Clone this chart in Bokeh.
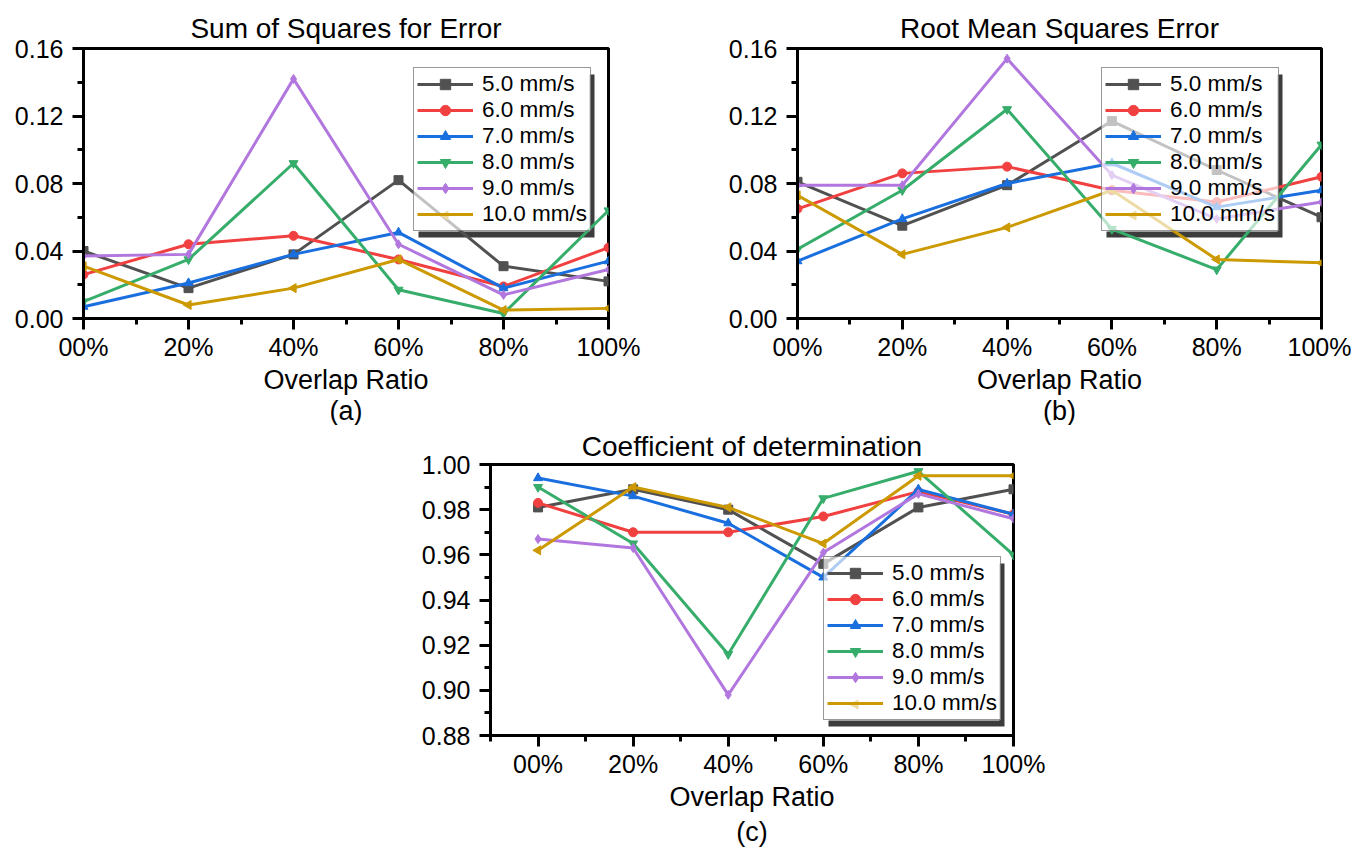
import math

from bokeh.plotting import figure
from bokeh.models import (FixedTicker, PrintfTickFormatter, Legend, LegendItem,
                          Title, Range1d, Spacer, BoxAnnotation, PolyAnnotation)
from bokeh.layouts import column, row
from bokeh.embed import file_html
from bokeh.resources import INLINE

# ---- data -------------------------------------------------------------
overlap = [0, 20, 40, 60, 80, 100]
overlap_labels = ["00%", "20%", "40%", "60%", "80%", "100%"]
speeds = ["5.0 mm/s", "6.0 mm/s", "7.0 mm/s", "8.0 mm/s", "9.0 mm/s", "10.0 mm/s"]

# Sum of squares for error
sse_5 = [0.040, 0.018, 0.038, 0.082, 0.031, 0.022]
sse_6 = [0.026, 0.044, 0.049, 0.035, 0.019, 0.042]
sse_7 = [0.007, 0.021, 0.038, 0.051, 0.018, 0.034]
sse_8 = [0.010, 0.035, 0.092, 0.017, 0.003, 0.064]
sse_9 = [0.037, 0.038, 0.142, 0.044, 0.014, 0.029]
sse_10 = [0.031, 0.008, 0.018, 0.035, 0.005, 0.006]

# Root mean squares error
rmse_5 = [0.081, 0.055, 0.079, 0.117, 0.088, 0.060]
rmse_6 = [0.065, 0.086, 0.090, 0.076, 0.069, 0.084]
rmse_7 = [0.034, 0.059, 0.080, 0.092, 0.066, 0.076]
rmse_8 = [0.041, 0.076, 0.124, 0.053, 0.029, 0.103]
rmse_9 = [0.079, 0.079, 0.154, 0.085, 0.059, 0.069]
rmse_10 = [0.073, 0.038, 0.054, 0.076, 0.035, 0.033]

# Coefficient of determination
r2_5 = [0.981, 0.989, 0.980, 0.956, 0.981, 0.989]
r2_6 = [0.983, 0.970, 0.970, 0.977, 0.988, 0.978]
r2_7 = [0.994, 0.986, 0.974, 0.950, 0.989, 0.978]
r2_8 = [0.990, 0.965, 0.916, 0.985, 0.997, 0.960]
r2_9 = [0.967, 0.963, 0.898, 0.961, 0.987, 0.976]
r2_10 = [0.962, 0.990, 0.981, 0.965, 0.995, 0.995]

small_ticks = [0.00, 0.04, 0.08, 0.12, 0.16]
r2_ticks = [0.88, 0.90, 0.92, 0.94, 0.96, 0.98, 1.00]

# ---- style ------------------------------------------------------------
COLORS = ["#515151", "#F14040", "#1A6FDF", "#37AD6B", "#B177DE", "#CC9900"]
MARKERS = ["square", "circle", "triangle", "inverted_triangle", "diamond", "triangle"]
ANGLES = [0, 0, 0, 0, 0, math.pi / 2]   # last one: triangle pointing left
FONT = "Liberation Sans"
TITLE_FS = "28px"
TICK_FS = "25px"
LABEL_FS = "27px"
LEG_FS = "22.5px"

# legend box geometry (pixels)
LEG_PAD = 3
LEG_GW = 56
LEG_ROW = 26
LEG_W = 176
LEG_H = 163
SHADOW_DX, SHADOW_DY = 5, 6


def build_panel(title, caption, series, y_ticks, x_lo, frame_w, frame_h,
                borders, legend_loc, title_gap, caption_gap):
    left, right, top, bottom = borders
    y_lo, y_hi = y_ticks[0], y_ticks[-1]
    p = figure(frame_width=frame_w, frame_height=frame_h,
               min_border_left=left, min_border_right=right,
               min_border_top=top, min_border_bottom=bottom,
               x_range=Range1d(x_lo, 100), y_range=Range1d(y_lo, y_hi),
               output_backend="svg", toolbar_location=None)
    p.title = None
    p.add_layout(Title(text=title, align="center", text_font=FONT,
                       text_font_size=TITLE_FS, text_font_style="normal",
                       text_color="black", standoff=title_gap), "above")
    p.add_layout(Title(text=caption, align="center", text_font=FONT,
                       text_font_size=LABEL_FS, text_font_style="normal",
                       text_color="black", standoff=caption_gap), "below")

    p.grid.visible = False
    p.outline_line_color = "black"
    p.outline_line_width = 3
    p.outline_line_alpha = 1
    p.background_fill_color = "white"
    p.border_fill_color = "white"

    x_minor = [t - 10 for t in overlap if t - 10 >= x_lo]
    y_minor = [(a + b) / 2 for a, b in zip(y_ticks[:-1], y_ticks[1:])]
    p.xaxis.ticker = FixedTicker(ticks=overlap, minor_ticks=x_minor)
    p.xaxis.major_label_overrides = dict(zip(overlap, overlap_labels))
    p.yaxis.ticker = FixedTicker(ticks=y_ticks, minor_ticks=y_minor)
    p.yaxis.formatter = PrintfTickFormatter(format="%.2f")

    for ax in (p.xaxis[0], p.yaxis[0]):
        ax.axis_line_width = 3
        ax.axis_line_color = "black"
        ax.major_tick_line_width = 3
        ax.major_tick_line_color = "black"
        ax.major_tick_out = 11
        ax.major_tick_in = 0
        ax.minor_tick_line_width = 3
        ax.minor_tick_line_color = "black"
        ax.minor_tick_out = 6
        ax.minor_tick_in = 0
        ax.major_label_text_font = FONT
        ax.major_label_text_font_size = TICK_FS
        ax.major_label_text_color = "black"
    p.xaxis.major_label_standoff = 3
    p.yaxis.major_label_standoff = 9
    p.xaxis.axis_label = "Overlap Ratio"
    p.xaxis.axis_label_text_font = FONT
    p.xaxis.axis_label_text_font_size = LABEL_FS
    p.xaxis.axis_label_text_font_style = "normal"
    p.xaxis.axis_label_text_color = "black"
    p.xaxis.axis_label_standoff = 1

    # pixel offsets inside the frame -> data coordinates
    def dx(px):
        return x_lo + px / frame_w * (100 - x_lo)

    def dy(py):
        return y_lo + py / frame_h * (y_hi - y_lo)

    lx, ly = legend_loc

    # drop shadow of the legend, and a white card hiding its overlap
    p.add_layout(BoxAnnotation(left=dx(lx + SHADOW_DX), right=dx(lx + LEG_W + SHADOW_DX),
                               bottom=dy(ly - SHADOW_DY), top=dy(ly + LEG_H - SHADOW_DY),
                               fill_color="#3c3c3c", fill_alpha=1, line_color=None,
                               level="underlay"))
    p.add_layout(BoxAnnotation(left=dx(lx), right=dx(lx + LEG_W),
                               bottom=dy(ly), top=dy(ly + LEG_H),
                               fill_color="white", fill_alpha=1, line_color=None,
                               level="underlay"))

    items = []
    rotated_keys = []
    for ys, name, color, marker, angle in zip(series, speeds, COLORS, MARKERS, ANGLES):
        ln = p.line(overlap, ys, line_color=color, line_width=3)
        mk = p.scatter(overlap, ys, marker=marker, size=9, angle=angle,
                       fill_color=color, line_color=color)
        if angle == 0:
            items.append(LegendItem(label=name, renderers=[ln, mk]))
        else:
            # legend keys ignore marker rotation: the key's left-pointing
            # triangle is drawn as a polygon on top of the legend
            items.append(LegendItem(label=name, renderers=[ln]))
            row_idx = len(speeds) - 1 - speeds.index(name)
            kx = lx + LEG_PAD + LEG_GW / 2
            ky = ly + LEG_PAD + LEG_ROW * row_idx + LEG_ROW / 2
            rotated_keys.append(PolyAnnotation(
                xs=[dx(kx - 4.5), dx(kx + 3.5), dx(kx + 3.5)],
                ys=[dy(ky), dy(ky + 4.5), dy(ky - 4.5)],
                fill_color=color, fill_alpha=1, line_color=color,
                line_width=1, line_alpha=1))

    p.add_layout(Legend(items=items, location=(lx, ly),
                        background_fill_color="white", background_fill_alpha=0.65,
                        border_line_color="#333333", border_line_width=1,
                        label_text_font=FONT, label_text_font_size=LEG_FS,
                        label_text_color="black",
                        glyph_width=LEG_GW, glyph_height=LEG_ROW,
                        label_height=LEG_ROW, label_standoff=9,
                        spacing=0, padding=LEG_PAD, margin=0))
    for key in rotated_keys:
        p.add_layout(key)
    return p


pa = build_panel("Sum of Squares for Error", "(a)",
                 [sse_5, sse_6, sse_7, sse_8, sse_9, sse_10], small_ticks,
                 0, 525, 270, (83, 92, 48, 107), (330, 87), 9, -7)
pb = build_panel("Root Mean Squares Error", "(b)",
                 [rmse_5, rmse_6, rmse_7, rmse_8, rmse_9, rmse_10], small_ticks,
                 0, 524, 270, (97, 30, 48, 107), (304, 87), 9, -7)
pc = build_panel("Coefficient of determination", "(c)",
                 [r2_5, r2_6, r2_7, r2_8, r2_9, r2_10], r2_ticks,
                 -10, 523, 271, (70, 40, 20, 118), (333, 15), 6, 0)

layout = column(row(pa, pb), row(Spacer(width=418, height=10), pc))

open("out.html", "w").write(file_html(layout, INLINE))
